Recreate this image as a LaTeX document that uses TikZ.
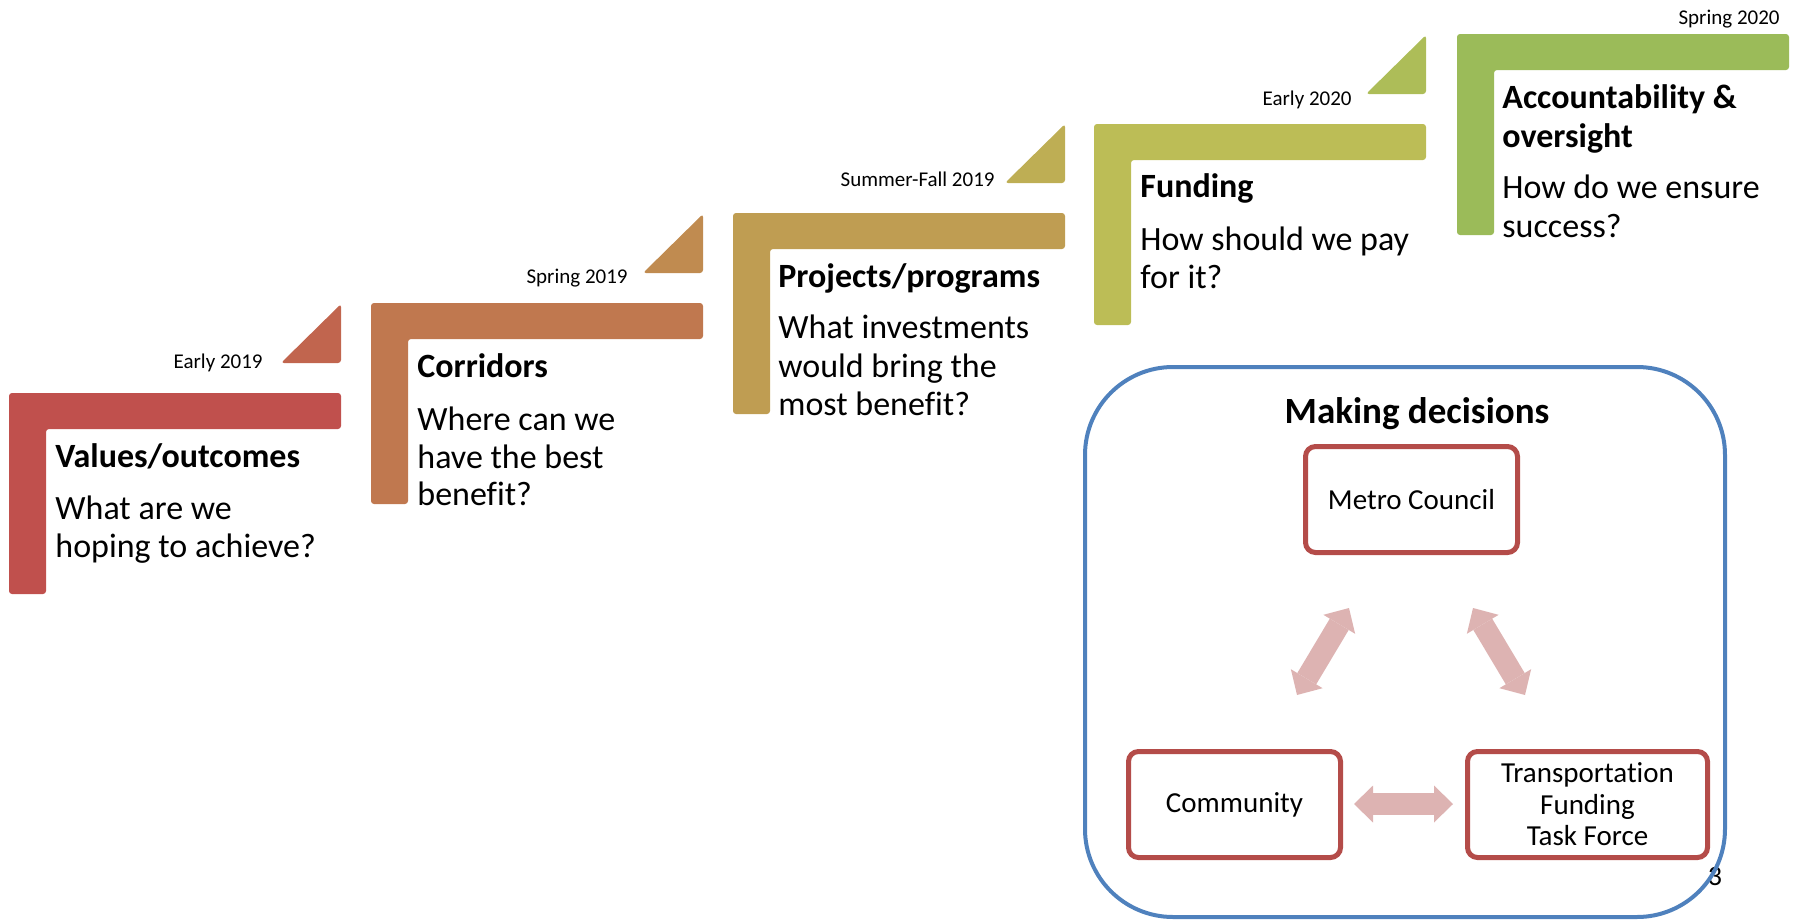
\documentclass[tikz,border=0pt]{standalone}
\usepackage{fontspec}
\setmainfont{Carlito}[Ligatures=NoCommon]
\usetikzlibrary{arrows.meta}
\definecolor{cLa}{HTML}{C0504D}
\definecolor{cTa}{HTML}{C1654E}
\definecolor{cLb}{HTML}{C0784F}
\definecolor{cTb}{HTML}{C08B50}
\definecolor{cLc}{HTML}{BF9D52}
\definecolor{cTc}{HTML}{BEAE54}
\definecolor{cLd}{HTML}{BCBD56}
\definecolor{cTd}{HTML}{ADBD58}
\definecolor{cLe}{HTML}{9BBB59}
\definecolor{boxred}{HTML}{B44C49}
\definecolor{arrowpink}{HTML}{DDB3B2}
\definecolor{frameblue}{HTML}{4F81BD}
\begin{document}
\begin{tikzpicture}[x=0.5pt,y=-0.5pt,
  titletext/.style={anchor=base west, inner sep=0pt, font=\fontsize{17pt}{19pt}\selectfont\bfseries},
  bodytext/.style={anchor=base west, inner sep=0pt, font=\fontsize{17pt}{19pt}\selectfont},
  datelabel/.style={anchor=base east, inner sep=0pt, font=\fontsize{10.5pt}{12pt}\selectfont},
  rolebox/.style={draw=boxred, line width=2.5pt, rounded corners=5pt, fill=white,
    minimum height=53pt, inner sep=0pt, align=center,
    font=\fontsize{14.5pt}{15.75pt}\selectfont},
  blockarrow/.style={draw=arrowpink, line width=11pt,
    {Triangle[width=18.5pt,length=9.5pt,line width=0pt]}-{Triangle[width=18.5pt,length=9.5pt,line width=0pt]}}
]
\useasboundingbox (0,0) rectangle (1795,921);

% L-shaped steps
\foreach \x/\y/\c in {9/393/cLa, 371/303/cLb, 733/213/cLc, 1094/124/cLd, 1457/34/cLe}{
  \fill[\c, rounded corners=1.5pt] (\x,\y) -- ++(332,0) -- ++(0,36) -- ++(-295,0)
    -- ++(0,165) -- ++(-37,0) -- cycle;
}
% triangles
\foreach \x/\y/\c in {9/393/cTa, 371/303/cTb, 733/213/cTc, 1094/124/cTd}{
  \fill[\c, rounded corners=1.5pt] (\x+332,\y-89) -- (\x+332,\y-30) -- (\x+272,\y-30) -- cycle;
}

% date labels
\node[datelabel] (la) at (263,368) {Early 2019};
\node[datelabel] (lb) at (628,283) {Spring 2019};
\node[datelabel] (lc) at (995,186) {Summer-Fall 2019};
\node[datelabel] (ld) at (1352,105) {Early 2020};
\node[datelabel] (le) at (1780,25) {Spring 2020};

% step 1
\node[titletext] (ta) at (55,467) {Values/outcomes};
\node[bodytext] (ba1) at (55,519) {What are we};
\node[bodytext] (ba2) at (55,557) {hoping to achieve?};
% step 2
\node[titletext] (tb) at (417,377) {Corridors};
\node[bodytext] (bb1) at (417,430) {Where can we};
\node[bodytext] (bb2) at (417,468) {have the best};
\node[bodytext] (bb3) at (417,505) {benefit?};
% step 3
\node[titletext] (tc) at (778,287) {Projects/programs};
\node[bodytext] (bc1) at (778,338) {What investments};
\node[bodytext] (bc2) at (778,377) {would bring the};
\node[bodytext] (bc3) at (778,415) {most benefit?};
% step 4
\node[titletext] (td) at (1140,197) {Funding};
\node[bodytext] (bd1) at (1140,250) {How should we pay};
\node[bodytext] (bd2) at (1140,288) {for it?};
% step 5
\node[titletext] (te1) at (1502,108) {Accountability \&};
\node[titletext] (te2) at (1502,147) {oversight};
\node[bodytext] (be1) at (1502,198) {How do we ensure};
\node[bodytext] (be2) at (1502,237) {success?};

% decision panel
\node[anchor=base, inner sep=0pt, font=\fontsize{18.5pt}{20pt}\selectfont\bfseries] (md) at (1417,423) {Making decisions};
\node[rolebox, minimum width=106pt] (mc) at (1411.5,499.5) {Metro Council};
\node[rolebox, minimum width=106pt] (com) at (1234.5,804.5) {Community};
\node[rolebox, minimum width=120pt] (tf) at (1587.5,804.5) {Transportation\\Funding\\Task Force};

\coordinate (la1) at (1297,695);
\coordinate (la2) at (1349,608);
\coordinate (ra1) at (1473,608);
\coordinate (ra2) at (1525,695);
\coordinate (ha1) at (1354,804);
\coordinate (ha2) at (1453,804);
\draw[blockarrow] (la1) -- (la2);
\draw[blockarrow] (ra1) -- (ra2);
\draw[blockarrow] (ha1) -- (ha2);

\node[inner sep=0pt, font=\fontsize{14pt}{14pt}\selectfont] (pg) at (1715,877) {3};
\node[draw=frameblue, line width=2pt, rounded corners=44pt, minimum width=320pt, minimum height=275pt, inner sep=0pt] (frame) at (1405,642) {};
\end{tikzpicture}
\end{document}
